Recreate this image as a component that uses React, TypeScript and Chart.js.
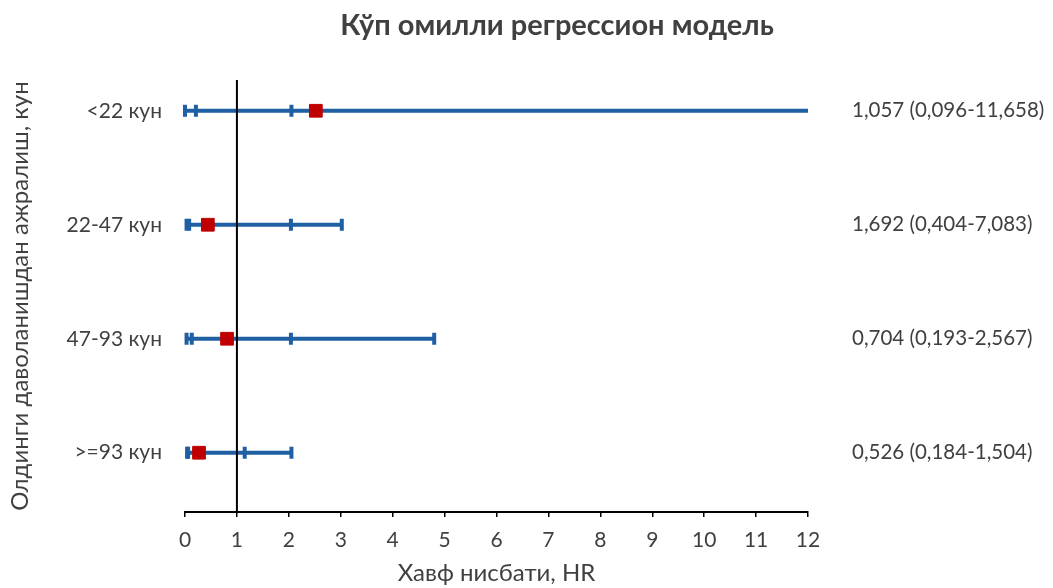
import React, { useEffect, useRef } from 'react';
import { Chart, registerables } from 'chart.js';

Chart.register(...registerables);

// ---------- data ----------
const categories = ['<22 кун', '22-47 кун', '47-93 кун', '>=93 кун'];
const rowPositions = [4, 3, 2, 1];
const lineStarts = [0, 0.03, 0.03, 0.04];
const lineEnds = [13, 3.02, 4.8, 2.05];
const lowerCaps = [0, 0.03, 0.03, 0.04];
const innerLowerCaps = [0.21, 0.08, 0.13, 0.06];
const middleCaps = [2.05, 2.04, 2.04, 1.15];
const upperCaps = [null, 3.02, 4.8, 2.05];
const estimates = [2.52, 0.44, 0.81, 0.27];
const hrLabels = [
  '1,057 (0,096-11,658)',
  '1,692 (0,404-7,083)',
  '0,704 (0,193-2,567)',
  '0,526 (0,184-1,504)',
];
const referenceValue = 1;
const xMin = 0;
const xMax = 12;
const yMin = 0.48;
const yMax = 4.27;

const chartTitle = 'Кўп омилли регрессион модель';
const xTitle = 'Хавф нисбати, HR';
const yTitle = 'Олдинги даволанишдан ажралиш, кун';

const BLUE = '#1F5FA3';
const RED = '#C00000';
const TEXT = '#404040';
const FONT = "Lato, 'Open Sans', sans-serif";

export default function App() {
  const canvasRef = useRef<HTMLCanvasElement | null>(null);

  useEffect(() => {
    const canvas = canvasRef.current;
    if (!canvas) return;

    const capPoints: { x: number; y: number }[] = [];
    rowPositions.forEach((row, i) => {
      [lowerCaps[i], innerLowerCaps[i], middleCaps[i], upperCaps[i]].forEach((v) => {
        if (v !== null && v !== undefined) capPoints.push({ x: v as number, y: row });
      });
    });

    const rowLines = rowPositions.map((row, i) => ({
      type: 'line' as const,
      data: [
        { x: lineStarts[i], y: row },
        { x: lineEnds[i], y: row },
      ],
      borderColor: BLUE,
      borderWidth: 4,
      pointRadius: 0,
      fill: false,
      order: 3,
      clip: { left: 4, right: 0, top: 4, bottom: 4 },
    }));

    const textPlugin = {
      id: 'extraText',
      afterDraw(chart: any) {
        const ctx = chart.ctx;
        const yScale = chart.scales.y;
        ctx.save();
        ctx.fillStyle = TEXT;
        ctx.font = `bold 29px ${FONT}`;
        ctx.textAlign = 'center';
        ctx.textBaseline = 'middle';
        ctx.fillText(chartTitle, 557, 26);
        ctx.font = `20.5px ${FONT}`;
        ctx.textAlign = 'left';
        hrLabels.forEach((label, i) => {
          ctx.fillText(label, 852, yScale.getPixelForValue(rowPositions[i]));
        });
        ctx.restore();
      },
    };

    const chart = new Chart(canvas, {
      type: 'scatter',
      data: {
        datasets: [
          {
            type: 'scatter',
            data: rowPositions.map((row, i) => ({ x: estimates[i], y: row })),
            pointStyle: 'rect',
            pointRadius: 9,
            backgroundColor: RED,
            borderColor: RED,
            borderWidth: 1,
            order: 0,
          } as any,
          {
            type: 'line',
            data: [
              { x: referenceValue, y: yMin },
              { x: referenceValue, y: yMax },
            ],
            borderColor: '#000000',
            borderWidth: 2,
            pointRadius: 0,
            fill: false,
            order: 1,
          } as any,
          {
            type: 'scatter',
            data: capPoints,
            pointStyle: 'line',
            rotation: 90,
            pointRadius: 6,
            borderColor: BLUE,
            backgroundColor: BLUE,
            borderWidth: 4,
            order: 2,
            clip: false,
          } as any,
          ...(rowLines as any[]),
        ],
      },
      options: {
        responsive: false,
        animation: false,
        layout: { padding: { top: 80, right: 245, left: 0, bottom: 0 } },
        plugins: {
          legend: { display: false },
          tooltip: { enabled: false },
          title: { display: false },
        },
        scales: {
          x: {
            type: 'linear',
            position: 'bottom',
            min: xMin,
            max: xMax,
            ticks: {
              stepSize: 1,
              color: TEXT,
              font: { family: FONT, size: 21 },
              padding: 11,
            },
            grid: {
              display: true,
              drawOnChartArea: false,
              drawTicks: true,
              tickLength: 5,
              color: '#000000',
              lineWidth: 1.5,
            },
            border: { display: true, color: '#000000', width: 2 },
            title: {
              display: true,
              text: xTitle,
              color: TEXT,
              font: { family: FONT, size: 24 },
              padding: { top: 0, bottom: 0 },
            },
            afterFit: (scale: any) => {
              scale.height = 76;
            },
          },
          y: {
            type: 'linear',
            min: yMin,
            max: yMax,
            afterBuildTicks: (scale: any) => {
              scale.ticks = rowPositions.map((v) => ({ value: v }));
            },
            ticks: {
              color: TEXT,
              font: { family: FONT, size: 21 },
              padding: 23,
              callback: (v: any) => {
                const idx = rowPositions.indexOf(Number(v));
                return idx >= 0 ? categories[idx] : '';
              },
            },
            grid: { display: false, drawTicks: false },
            border: { display: false },
            title: {
              display: true,
              text: yTitle,
              color: TEXT,
              font: { family: FONT, size: 24 },
              padding: { top: 6, bottom: 0 },
            },
            afterFit: (scale: any) => {
              scale.width = 185;
            },
          },
        },
      } as any,
      plugins: [textPlugin],
    });

    return () => chart.destroy();
  }, []);

  return (
    <div style={{ position: 'fixed', left: 0, top: 0, width: 1053, height: 588, background: '#ffffff' }}>
      <canvas ref={canvasRef} width={1053} height={588} style={{ display: 'block' }} />
    </div>
  );
}
